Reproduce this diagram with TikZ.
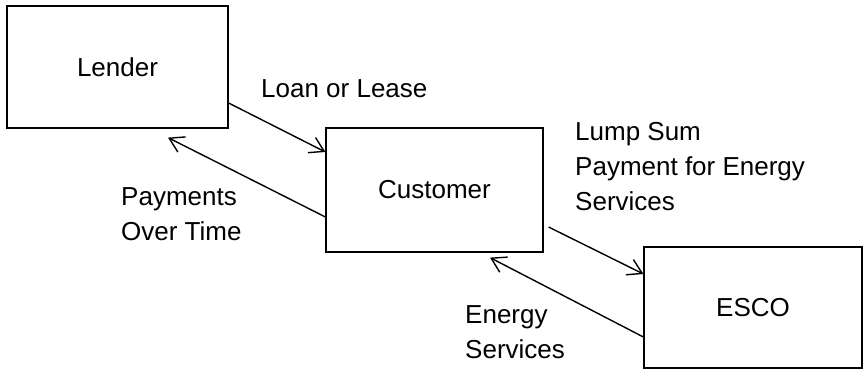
\documentclass[tikz,border=0pt]{standalone}
\usepackage{fontspec}
\setmainfont{Liberation Sans}
\usetikzlibrary{arrows.meta}
\begin{document}
\begin{tikzpicture}[x=1pt,y=-1pt,
  box/.style={draw, line width=1.2pt, inner sep=0pt, font=\fontsize{26}{35}\selectfont},
  lbl/.style={anchor=base west, inner sep=0pt, font=\fontsize{26}{35}\selectfont},
  arr/.style={line width=1.4pt, -{Straight Barb[length=14pt,width=17pt,line width=1.4pt]}}]
\useasboundingbox (0,0) rectangle (864,370);
\node[box, minimum width=221pt, minimum height=122pt] (lender) at (117.5,67) {Lender};
\node[box, minimum width=217pt, minimum height=124pt] (customer) at (434.5,190) {Customer};
\node[box, minimum width=218pt, minimum height=121pt] (esco) at (753,307.5) {ESCO};
\node[lbl] (loan) at (261,97) {Loan or Lease};
\node[lbl] (lump) at (575,140) {\vtop{\hbox{Lump Sum}\hbox{Payment for Energy}\hbox{Services}}};
\node[lbl] (pay) at (121,205) {\vtop{\hbox{Payments}\hbox{Over Time}}};
\node[lbl] (energy) at (465,323) {\vtop{\hbox{Energy}\hbox{Services}}};
\draw[arr] ([yshift=-36pt]lender.east) -- ([yshift=38pt]customer.west);
\draw[arr] ([yshift=-27pt]customer.west) -- ([xshift=50.5pt,yshift=-9pt]lender.south);
\draw[arr] ([xshift=5pt,yshift=-37pt]customer.east) -- ([yshift=33.5pt]esco.west);
\draw[arr] ([yshift=-29.5pt]esco.west) -- ([xshift=55.5pt,yshift=-5pt]customer.south);
\end{tikzpicture}
\end{document}
